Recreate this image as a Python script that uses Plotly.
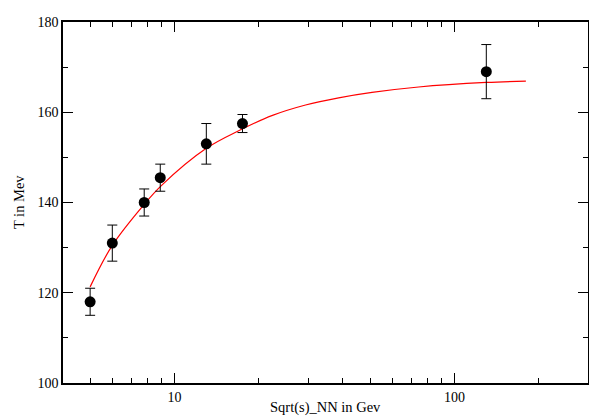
import plotly.graph_objects as go
import math

# Data points
sqrt_s = [5.0, 6.0, 7.8, 8.9, 13.0, 17.5, 130.0]
temp = [118.0, 131.0, 140.0, 145.5, 153.0, 157.5, 169.0]
temp_err = [3.0, 4.0, 3.0, 3.0, 4.5, 2.0, 6.0]

# Fit curve
fit_x = [5.0, 6.0, 7.8, 9.0, 13.0, 17.1, 22.4, 29.4, 38.6, 50.8, 74.5, 130.0, 180.0]
fit_y = [121.3, 130.5, 139.6, 143.8, 152.0, 156.0, 159.3, 161.6, 163.2, 164.4, 165.6, 166.6, 166.9]

x_major = [10, 100]
x_minor = [4, 5, 6, 7, 8, 9, 20, 30, 40, 50, 60, 70, 80, 90, 200, 300]

fig = go.Figure()
fig.add_trace(go.Scatter(
    x=fit_x, y=fit_y, mode="lines",
    line=dict(color="#ff0000", width=1.2, shape="spline", smoothing=1.0),
    hoverinfo="skip", showlegend=False))
fig.add_trace(go.Scatter(
    x=sqrt_s, y=temp, mode="markers",
    marker=dict(color="black", size=11, symbol="circle"),
    error_y=dict(type="data", array=temp_err, visible=True,
                 color="black", thickness=1, width=5),
    showlegend=False))

fam = "Times New Roman, Liberation Serif, serif"
tick_font = dict(family=fam, size=14, color="black")
title_font = dict(family=fam, size=14.5, color="black")
fig.update_layout(
    width=589, height=410,
    margin=dict(l=55, r=7, t=7, b=35),
    paper_bgcolor="white", plot_bgcolor="white",
    font=tick_font,
    xaxis=dict(type="log", range=[math.log10(4), math.log10(300)],
               tickvals=x_major, ticktext=["10", "100"],
               ticks="inside", ticklen=10, tickwidth=1, tickcolor="black",
               minor=dict(tickvals=x_minor, ticks="inside", ticklen=5,
                          tickwidth=1, tickcolor="black", showgrid=False),
               showline=True, linecolor="black", linewidth=1.5, mirror="ticks",
               showgrid=False, zeroline=False, tickfont=tick_font),
    yaxis=dict(range=[100, 180], tickvals=[100, 120, 140, 160, 180],
               ticks="inside", ticklen=10, tickwidth=1, tickcolor="black",
               minor=dict(dtick=10, ticks="inside", ticklen=5, tickwidth=1,
                          tickcolor="black", showgrid=False),
               showline=True, linecolor="black", linewidth=1.5, mirror="ticks",
               showgrid=False, zeroline=False, tickfont=tick_font),
    annotations=[
        dict(text="Sqrt(s)_NN in Gev", x=0.5, y=-0.068, xref="paper", yref="paper",
             xanchor="center", yanchor="middle", showarrow=False, font=title_font),
        dict(text="T in Mev", x=-0.0655, y=0.5, xref="paper", yref="paper",
             xanchor="right", yanchor="middle", textangle=-90, showarrow=False,
             font=title_font),
    ],
)
fig.write_html("out.html")
